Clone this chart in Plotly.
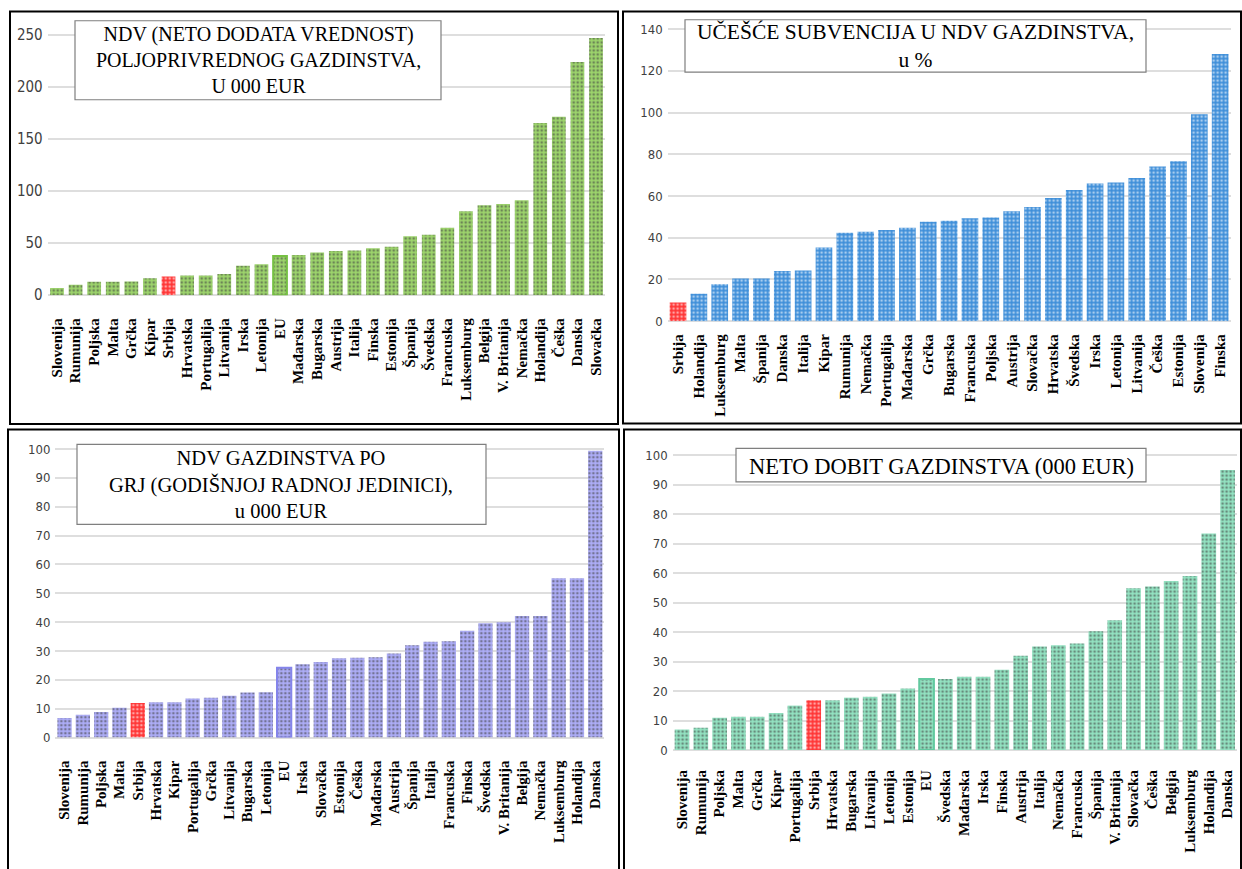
import plotly.graph_objects as go

W, H = 1242, 869

# ---------------- data ----------------
p1_cats = ["Slovenija", "Rumunija", "Poljska", "Malta", "Grčka", "Kipar", "Srbija", "Hrvatska",
           "Portugalija", "Litvanija", "Irska", "Letonija", "EU", "Mađarska", "Bugarska", "Austrija",
           "Italija", "Finska", "Estonija", "Španija", "Švedska", "Francuska", "Luksemburg", "Belgija",
           "V. Britanija", "Nemačka", "Holandija", "Češka", "Danska", "Slovačka"]
p1_vals = [7, 10, 13, 13, 13.3, 16.4, 18, 19, 19, 20.5, 28.4, 29.7, 37.6, 38.6, 41, 42.4,
           43, 45, 46.5, 56.6, 58, 64.8, 80.6, 86.3, 87.5, 91.3, 165.3, 171.3, 224, 247]
p1_title = "NDV (NETO DODATA VREDNOST)<br>POLJOPRIVREDNOG GAZDINSTVA,<br>U 000 EUR"
p1_ticks = [0, 50, 100, 150, 200, 250]

p2_cats = ["Srbija", "Holandija", "Luksemburg", "Malta", "Španija", "Danska", "Italija", "Kipar",
           "Rumunija", "Nemačka", "Portugalija", "Mađarska", "Grčka", "Bugarska", "Francuska",
           "Poljska", "Austrija", "Slovačka", "Hrvatska", "Švedska", "Irska", "Letonija",
           "Litvanija", "Češka", "Estonija", "Slovenija", "Finska"]
p2_vals = [9, 13.1, 17.7, 20.5, 20.5, 24, 24.3, 35.3, 42.4, 42.9, 43.7, 44.8, 47.6, 48.1, 49.3,
           49.7, 52.7, 54.7, 59, 62.9, 66, 66.5, 68.6, 74.1, 76.6, 99.2, 128]
p2_title = "UČEŠĆE SUBVENCIJA U NDV GAZDINSTVA,<br>u %"
p2_ticks = [0, 20, 40, 60, 80, 100, 120, 140]

p3_cats = ["Slovenija", "Rumunija", "Poljska", "Malta", "Srbija", "Hrvatska", "Kipar", "Portugalija",
           "Grčka", "Litvanija", "Bugarska", "Letonija", "EU", "Irska", "Slovačka", "Estonija",
           "Češka", "Mađarska", "Austrija", "Španija", "Italija", "Francuska", "Finska", "Švedska",
           "V. Britanija", "Belgija", "Nemačka", "Luksemburg", "Holandija", "Danska"]
p3_vals = [6.8, 7.9, 8.9, 10.3, 12, 12.2, 12.2, 13.5, 13.8, 14.5, 15.6, 15.7, 24.2, 25.4, 26.2,
           27.5, 27.7, 27.8, 29.1, 32, 33.2, 33.4, 37, 39.6, 40, 42.1, 42.1, 55.2, 55.2, 99.4]
p3_title = "NDV GAZDINSTVA PO<br>GRJ (GODIŠNJOJ RADNOJ JEDINICI),<br>u 000 EUR"
p3_ticks = [0, 10, 20, 30, 40, 50, 60, 70, 80, 90, 100]

p4_cats = ["Slovenija", "Rumunija", "Poljska", "Malta", "Grčka", "Kipar", "Portugalija", "Srbija",
           "Hrvatska", "Bugarska", "Litvanija", "Letonija", "Estonija", "EU", "Švedska", "Mađarska",
           "Irska", "Finska", "Austrija", "Italija", "Nemačka", "Francuska", "Španija",
           "V. Britanija", "Slovačka", "Češka", "Belgija", "Luksemburg", "Holandija", "Danska"]
p4_vals = [7, 7.6, 11, 11.3, 11.3, 12.6, 15.1, 16.9, 16.9, 17.8, 18.1, 19.2, 20.9, 24.1, 24.1,
           24.9, 24.9, 27.3, 32, 35.2, 35.6, 36.2, 40.3, 44.1, 54.9, 55.5, 57.4, 59.1, 73.5, 95.1]
p4_title = "NETO DOBIT GAZDINSTVA (000 EUR)"
p4_ticks = [0, 10, 20, 30, 40, 50, 60, 70, 80, 90, 100]

# ---------------- layout helpers ----------------
def fx(px):
    return px / W


def fy(py):
    return 1 - py / H


RED = "#ff3535"
panels = [
    dict(cats=p1_cats, vals=p1_vals, title=p1_title, ticks=p1_ticks, color="#9dd46c", eu="#76c043",
         xdom=(47.7, 605.3), ydom=(22.75, 297), yr=260, bw=0.74, standoff=19, tsize=15,
         box=(75, 19, 441, 99), tcenter=(258, 59), tfont=20,
         border=(10, 9.5, 618, 427.5), closed=True),
    dict(cats=p2_cats, vals=p2_vals, title=p2_title, ticks=p2_ticks, color="#3f8fd9", eu="#2a70b8",
         xdom=(667.6, 1230.6), ydom=(16.8, 323.3), yr=145, bw=0.8, standoff=9, tsize=13,
         box=(685, 18, 1146, 71), tcenter=(915, 45), tfont=21.5,
         border=(623, 9.5, 1241, 427), closed=True),
    dict(cats=p3_cats, vals=p3_vals, title=p3_title, ticks=p3_ticks, color="#adadf7", eu="#8484ea",
         xdom=(55.4, 604.4), ydom=(446.9, 745), yr=102, bw=0.78, standoff=19, tsize=13,
         box=(77, 448, 486, 529), tcenter=(281, 489), tfont=20.5,
         border=(8, 433, 619, 920), closed=False),
    dict(cats=p4_cats, vals=p4_vals, title=p4_title, ticks=p4_ticks, color="#93e3c2", eu="#62c99f",
         xdom=(672.6, 1237), ydom=(453.3, 757.7), yr=102, bw=0.78, standoff=16, tsize=13,
         box=(736, 452, 1146, 486), tcenter=(941, 470), tfont=22.5,
         border=(624, 433, 1241, 920), closed=False),
]

fig = go.Figure()
shapes = []
annotations = []

for i, p in enumerate(panels):
    n = i + 1
    xa = "x" if n == 1 else f"x{n}"
    ya = "y" if n == 1 else f"y{n}"
    colors = [RED if c == "Srbija" else p["color"] for c in p["cats"]]
    lw = [2 if c == "EU" else 0 for c in p["cats"]]
    lc = [p["eu"] if c == "EU" else p["color"] for c in p["cats"]]
    fig.add_trace(go.Bar(
        x=p["cats"], y=p["vals"], xaxis=xa, yaxis=ya, width=p["bw"],
        marker=dict(color=colors, line=dict(width=lw, color=lc),
                    pattern=dict(shape=".", fillmode="overlay", fgcolor="white",
                                 fgopacity=0.55, size=4, solidity=0.35)),
        showlegend=False, hoverinfo="x+y",
    ))
    xkey = "xaxis" if n == 1 else f"xaxis{n}"
    ykey = "yaxis" if n == 1 else f"yaxis{n}"
    fig.update_layout(**{
        xkey: dict(domain=[fx(p["xdom"][0]), fx(p["xdom"][1])], anchor=ya,
                   tickangle=-90, showgrid=False, showline=False, zeroline=False,
                   ticks="", ticklabelstandoff=p["standoff"],
                   tickfont=dict(family="Liberation Serif, Times New Roman, serif", size=15,
                                 color="black", weight="bold"),
                   categoryorder="array", categoryarray=p["cats"], fixedrange=True),
        ykey: dict(domain=[fy(p["ydom"][1]), fy(p["ydom"][0])], anchor=xa,
                   range=[0, p["yr"]], tickvals=p["ticks"], showgrid=True,
                   gridcolor="#dedede", gridwidth=1.5, zeroline=True, zerolinecolor="#dedede",
                   zerolinewidth=1.5, showline=False, ticks="", ticklabelstandoff=4,
                   tickfont=dict(family="Liberation Sans Narrow, DejaVu Sans Condensed, Arial Narrow, sans-serif",
                                 size=p["tsize"], color="#3f3f3f"),
                   fixedrange=True),
    })
    # panel border
    b = p["border"]
    x0, y0, x1, y1 = fx(b[0]), fy(b[1]), fx(b[2]), fy(b[3])
    if p["closed"]:
        path = f"M{x0},{y1} L{x0},{y0} L{x1},{y0} L{x1},{y1} Z"
    else:
        path = f"M{x0},{y1} L{x0},{y0} L{x1},{y0} L{x1},{y1}"
    shapes.append(dict(type="path", xref="paper", yref="paper", path=path,
                       line=dict(color="black", width=2), layer="above"))
    # title box
    bx = p["box"]
    shapes.append(dict(type="rect", xref="paper", yref="paper", x0=fx(bx[0]), x1=fx(bx[2]),
                       y0=fy(bx[3]), y1=fy(bx[1]), line=dict(color="#7f7f7f", width=1.2),
                       fillcolor="white", layer="above"))
    annotations.append(dict(xref="paper", yref="paper", x=fx(p["tcenter"][0]), y=fy(p["tcenter"][1]),
                            xanchor="center", yanchor="middle", text=p["title"], showarrow=False,
                            align="center",
                            font=dict(family="Liberation Serif, Times New Roman, serif",
                                      size=p["tfont"], color="black")))

fig.update_layout(width=W, height=H, margin=dict(l=0, r=0, t=0, b=0),
                  paper_bgcolor="white", plot_bgcolor="white",
                  shapes=shapes, annotations=annotations, bargap=0.2)

fig.write_html("out.html", config={"displayModeBar": False},
               post_script="document.body.style.margin='0';document.body.style.overflow='hidden';")
